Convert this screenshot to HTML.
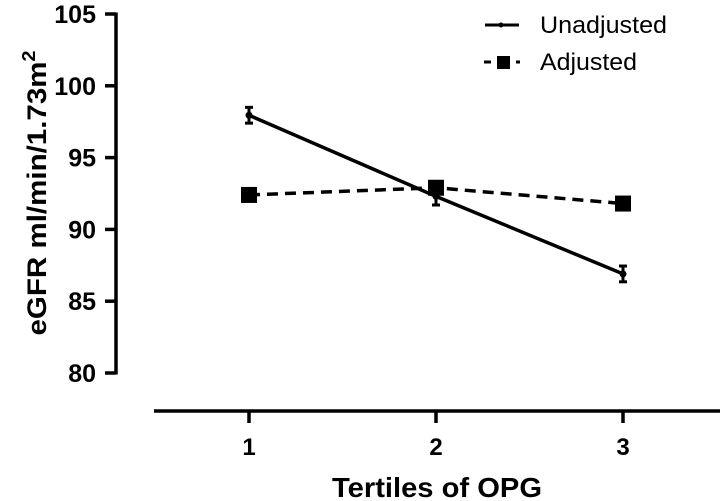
<!DOCTYPE html>
<html><head><meta charset="utf-8"><style>
html,body{margin:0;padding:0;background:#fff}
svg{display:block;font-family:"Liberation Sans",Arial,sans-serif}
</style></head><body>
<svg id="chart" width="720" height="501" viewBox="0 0 720 501"></svg>
<script>
const categories = [1, 2, 3];
const unadjusted = [97.95, 92.3, 86.9];
const unadjustedErr = [0.55, 0.6, 0.55];
const adjusted = [92.4, 92.9, 91.8];
const yTicks = [80, 85, 90, 95, 100, 105];

const NS = "http://www.w3.org/2000/svg";
const svg = document.getElementById('chart');
function yS(v){ return 373 - (v - 80) * (359 / 25); }
function xS(c){ return 249 + (c - 1) * 187; }
function mk(tag, attrs, parent){
  const e = document.createElementNS(NS, tag);
  for (const k in attrs) e.setAttribute(k, attrs[k]);
  (parent || svg).appendChild(e);
  return e;
}

let ya = mk('line', {x1:116, y1:yS(105)-1.5, x2:116, y2:yS(80)+1.5, stroke:'#000','stroke-width':3.5});


yTicks.forEach(t => {
  const y = yS(t);
  const tk = mk('line', {x1:105, y1:y, x2:116, y2:y, stroke:'#000','stroke-width':3.5});
  
  
  const lb = mk('text', {x:96, y:y+9, 'text-anchor':'end','font-size':25,'font-weight':'bold'});
  lb.textContent = t;
  
  
});
let xa = mk('line', {x1:154, y1:411, x2:720, y2:411, stroke:'#000','stroke-width':3.5});


categories.forEach(c => {
  const x = xS(c);
  const tk = mk('line', {x1:x, y1:411, x2:x, y2:423, stroke:'#000','stroke-width':3.5});
  
  
  const lb = mk('text', {x:x, y:455, 'text-anchor':'middle','font-size':24,'font-weight':'bold'});
  lb.textContent = c;
  
  
});
let xt = mk('text', {x:437, y:497, 'text-anchor':'middle','font-size':28,'font-weight':'bold', textLength:210, lengthAdjust:'spacingAndGlyphs'});
xt.textContent = 'Tertiles of OPG';


let yt = mk('text', {transform:'translate(46,193) rotate(-90)', 'text-anchor':'middle','font-size':27,'font-weight':'bold', textLength:285, lengthAdjust:'spacingAndGlyphs'});
yt.innerHTML = 'eGFR ml/min/1.73m<tspan dy="-11" font-size="18">2</tspan>';



let pa = adjusted.map((v,i)=>xS(categories[i])+','+yS(v)).join(' ');
let al = mk('polyline', {points:pa, fill:'none', stroke:'#000','stroke-width':3.5,'stroke-dasharray':'11,7'});


adjusted.forEach((v,i)=>{
  const m = mk('rect', {x:xS(categories[i])-8, y:yS(v)-8, width:16, height:16, fill:'#000'});
  
  
});
let pu = unadjusted.map((v,i)=>xS(categories[i])+','+yS(v)).join(' ');
let ul = mk('polyline', {points:pu, fill:'none', stroke:'#000','stroke-width':3.5});


unadjusted.forEach((v,i)=>{
  const x = xS(categories[i]);
  const g = mk('g', {});
  
  
  const y1 = yS(v + unadjustedErr[i]), y2 = yS(v - unadjustedErr[i]);
  mk('line', {x1:x, y1:y1, x2:x, y2:y2, stroke:'#000','stroke-width':3}, g);
  mk('line', {x1:x-4, y1:y1, x2:x+4, y2:y1, stroke:'#000','stroke-width':3}, g);
  mk('line', {x1:x-4, y1:y2, x2:x+4, y2:y2, stroke:'#000','stroke-width':3}, g);
  const c = mk('circle', {cx:x, cy:yS(v), r:3.5, fill:'#000'});
  
  
});

const lg = mk('g', {});


mk('line', {x1:485, y1:25, x2:519, y2:25, stroke:'#000','stroke-width':3}, lg);
mk('circle', {cx:501, cy:25, r:2.5, fill:'#000'}, lg);
let t1 = mk('text', {x:540, y:33, 'font-size':24, textLength:127, lengthAdjust:'spacingAndGlyphs'}, lg);
t1.textContent = 'Unadjusted';


mk('line', {x1:484, y1:62, x2:491, y2:62, stroke:'#000','stroke-width':3}, lg);
mk('line', {x1:516, y1:62, x2:520, y2:62, stroke:'#000','stroke-width':3}, lg);
mk('rect', {x:497, y:56, width:13, height:13, fill:'#000'}, lg);
let t2 = mk('text', {x:540, y:70, 'font-size':24, textLength:97, lengthAdjust:'spacingAndGlyphs'}, lg);
t2.textContent = 'Adjusted';


</script>
</body></html>
